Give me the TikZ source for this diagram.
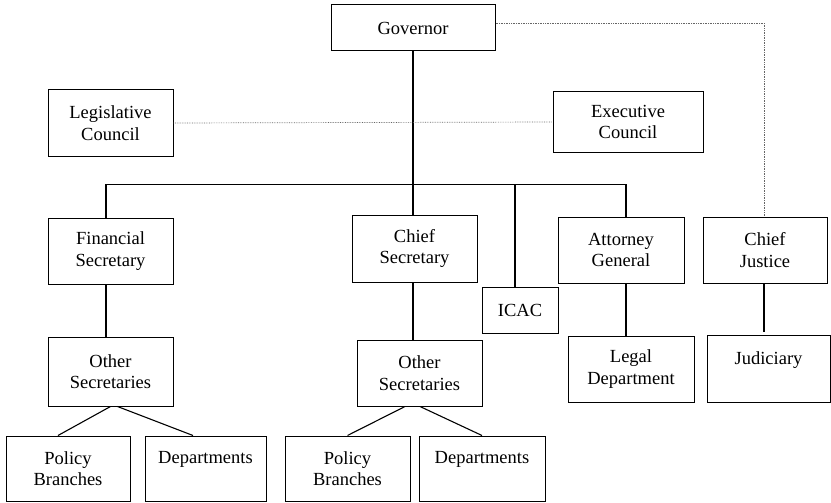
\documentclass[tikz,border=0pt]{standalone}
\usepackage{fontspec}
\setmainfont{Liberation Serif}
\begin{document}
\begin{tikzpicture}[x=1pt,y=-1pt,
  orgbox/.style={draw, line width=1pt, inner sep=0pt, align=center,
    font=\fontsize{18.5}{21.5}\selectfont},
  link/.style={line width=1.1pt},
  dotlink/.style={line width=0.7pt, black!60, densely dotted}]
\useasboundingbox (0,0) rectangle (831,503);
\node[orgbox, minimum width=164pt, minimum height=46pt] (gov) at (413,28) {Governor};
\node[orgbox, minimum width=125pt, minimum height=66pt] (leg) at (110.5,123) {Legislative\\Council};
\node[orgbox, minimum width=150pt, minimum height=60pt] (exe) at (628,122) {Executive\\Council};
\node[orgbox, minimum width=125pt, minimum height=66pt] (fin) at (110.5,251) {Financial\\Secretary};
\node[orgbox, minimum width=125pt, minimum height=67pt] (chief) at (414.5,248.5) {Chief\\Secretary};
\node[orgbox, minimum width=76pt, minimum height=46pt] (icac) at (520,310) {ICAC};
\node[orgbox, minimum width=126pt, minimum height=66pt] (att) at (621,250) {Attorney\\General};
\node[orgbox, minimum width=124pt, minimum height=66pt] (cj) at (765,250) {Chief\\Justice};
\node[orgbox, minimum width=125pt, minimum height=69pt] (os1) at (110.5,371.5) {Other\\Secretaries};
\node[orgbox, minimum width=125pt, minimum height=66pt] (os2) at (419.5,373) {Other\\Secretaries};
\node[orgbox, minimum width=126pt, minimum height=66pt] (legal) at (631,369) {Legal\\Department};
\node[orgbox, minimum width=123pt, minimum height=67pt] (jud) at (768.5,368.5) {Judiciary\\\mbox{}};
\node[orgbox, minimum width=124pt, minimum height=65pt] (pb1) at (68,468.5) {Policy\\Branches};
\node[orgbox, minimum width=121pt, minimum height=65pt] (dep1) at (205.5,468.5) {Departments\\\mbox{}};
\node[orgbox, minimum width=125pt, minimum height=65pt] (pb2) at (347.5,468.5) {Policy\\Branches};
\node[orgbox, minimum width=126pt, minimum height=65pt] (dep2) at (482,468.5) {Departments\\\mbox{}};
% main tree
\coordinate (bus) at ([yshift=33]fin.north);
\draw[link] (gov.south) -- (gov.south |- chief.north);
\draw[link] ([xshift=-4.5]fin.north) |- ([xshift=5]att.north |- bus) -- ([xshift=5]att.north);
\draw[link] ([xshift=-5]icac.north) -- ([xshift=-5]icac.north |- bus);
\draw[link] ([xshift=-4.5]fin.south) -- ([xshift=-4.5]os1.north);
\draw[link] ([xshift=-1.5]chief.south) -- ([xshift=-1.5]chief.south |- os2.north);
\draw[link] ([xshift=5]att.south) -- ([xshift=-5]legal.north);
\draw[link] ([xshift=-1]cj.south) -- ([xshift=-1,yshift=3]cj.south |- jud.north);
\draw[link] (os1.south) -- ([xshift=-10]pb1.north);
\draw[link] ([xshift=7]os1.south) -- ([xshift=-12.5]dep1.north);
\draw[link] ([xshift=-14.5]os2.south) -- (pb2.north);
\draw[link] ([xshift=0.5]os2.south) -- (dep2.north);
% dotted links
\draw[dotlink] (leg.east) -- (exe.west);
\draw[dotlink] ([yshift=5]gov.east) -| ([xshift=-1]cj.north);
\end{tikzpicture}
\end{document}
